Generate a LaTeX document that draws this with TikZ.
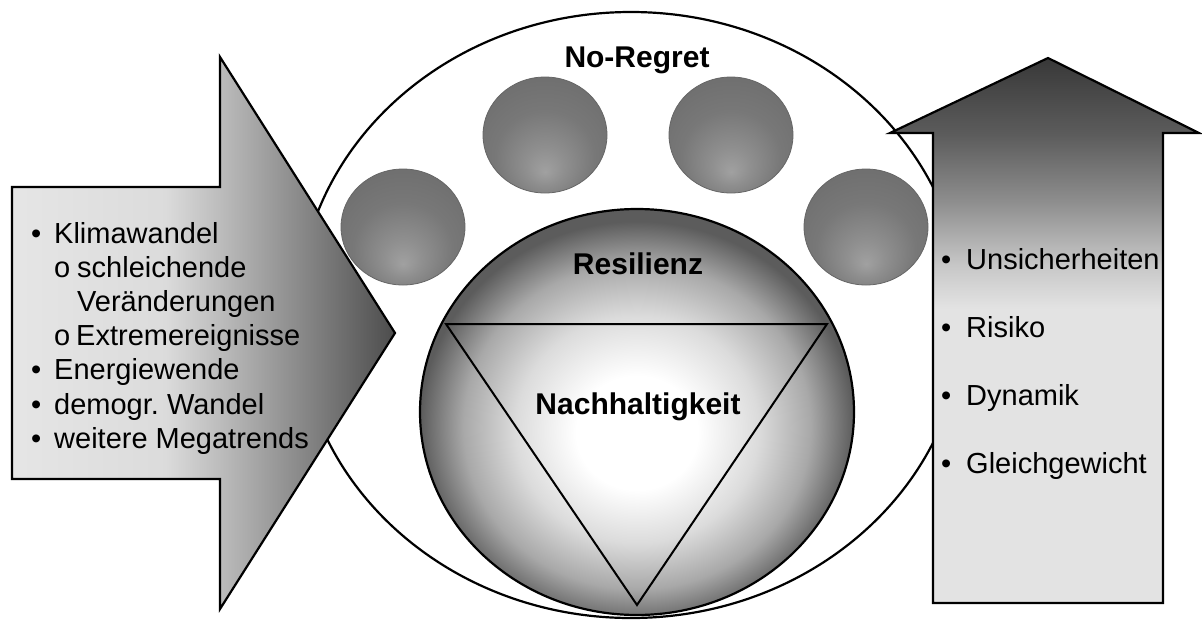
\documentclass[tikz,border=0pt]{standalone}
\usepackage{fontspec}
\setmainfont{Liberation Sans}
\frenchspacing
\definecolor{la1}{gray}{0.90}
\definecolor{la2}{gray}{0.86}
\definecolor{la3}{gray}{0.74}
\definecolor{la4}{gray}{0.55}
\definecolor{la5}{gray}{0.30}
\definecolor{ra1}{gray}{0.89}
\definecolor{ra2}{gray}{0.78}
\definecolor{ra3}{gray}{0.55}
\definecolor{ra4}{gray}{0.36}
\definecolor{ra5}{gray}{0.22}
\definecolor{sp1}{gray}{0.86}
\definecolor{sp2}{gray}{0.66}
\definecolor{sp3}{gray}{0.36}
\definecolor{b1}{gray}{0.63}
\definecolor{b2}{gray}{0.56}
\definecolor{b3}{gray}{0.47}
\definecolor{b4}{gray}{0.41}
\pgfdeclarehorizontalshading{larrow}{100bp}{color(0bp)=(la1); color(25bp)=(la1); color(45bp)=(la2); color(52bp)=(la3); color(62bp)=(la4); color(75bp)=(la5); color(100bp)=(la5)}
\pgfdeclareverticalshading{rarrow}{100bp}{color(0bp)=(ra1); color(25bp)=(ra1); color(52bp)=(ra1); color(56bp)=(ra2); color(62bp)=(ra3); color(68bp)=(ra4); color(75bp)=(ra5); color(100bp)=(ra5)}
\pgfdeclareradialshading{sph}{\pgfpoint{0bp}{-3bp}}{color(0bp)=(white); color(7bp)=(white); color(14bp)=(sp1); color(20bp)=(sp2); color(25bp)=(sp3); color(50bp)=(sp3)}
\pgfdeclareradialshading{bl}{\pgfpoint{0bp}{-16bp}}{color(0bp)=(b1); color(8bp)=(b2); color(20bp)=(b3); color(40bp)=(b4); color(50bp)=(b4)}
\begin{document}
\begin{tikzpicture}[x=1pt,y=-1pt,
  outl/.style={draw=black,line width=2.2pt,line join=miter},
  ballshape/.style={shading=bl,draw=black!60,line width=0.8pt},
  item/.style={anchor=base west,inner sep=0pt,font=\fontsize{29}{34}\selectfont},
  ttl/.style={anchor=base,inner sep=0pt,font=\fontsize{30}{36}\selectfont\bfseries}]
\fill[white] (0,0) rectangle (1202,619);
\useasboundingbox (0,0) rectangle (1202,619);
% outer ellipse
\draw[outl,fill=white] (631,315) ellipse [x radius=333pt,y radius=303pt];
% left arrow
\shadedraw[shading=larrow,outl] (12,187) -- (220,187) -- (220,57) -- (395,333) -- (220,609) -- (220,479) -- (12,479) -- cycle;
% right arrow
\shadedraw[shading=rarrow,outl] (933,603) -- (933,133) -- (890,133) -- (1048,58) -- (1199,133) -- (1163,133) -- (1163,603) -- cycle;
% balls
\shadedraw[ballshape] (403,227) ellipse [x radius=62pt,y radius=58pt];
\shadedraw[ballshape] (545,135) ellipse [x radius=62pt,y radius=58pt];
\shadedraw[ballshape] (731,135) ellipse [x radius=62pt,y radius=58pt];
\shadedraw[ballshape] (866,227) ellipse [x radius=62pt,y radius=58pt];
% inner sphere
\shadedraw[shading=sph,outl] (637,412) ellipse [x radius=217pt,y radius=203pt];
\draw[black,line width=2pt,line join=miter] (446,324) -- (827,324) -- (637,605) -- cycle;
% titles
\node[ttl] (noregret) at (637,67) {No-Regret};
\node[ttl] (resil) at (638,274) {Resilienz};
\node[ttl] (nachh) at (638,414) {Nachhaltigkeit};
% left list
\node[item] (lb1) at (31,243) {•};
\node[item] (lt1) at (54,243) {Klimawandel};
\node[item] (lo1) at (54,277) {o};
\node[item] (lt2) at (77,277) {schleichende};
\node[item] (lt3) at (77,311) {Veränderungen};
\node[item] (lo2) at (54,345) {o};
\node[item] (lt4) at (76,345) {Extremereignisse};
\node[item] (lb2) at (31,379) {•};
\node[item] (lt5) at (54,379) {Energiewende};
\node[item] (lb3) at (31,414) {•};
\node[item] (lt6) at (54,414) {demogr. Wandel};
\node[item] (lb4) at (31,448) {•};
\node[item] (lt7) at (54,448) {weitere Megatrends};
% right list
\node[item] (rb1) at (941,269) {•};
\node[item] (rt1) at (966,269) {Unsicherheiten};
\node[item] (rb2) at (941,337) {•};
\node[item] (rt2) at (966,337) {Risiko};
\node[item] (rb3) at (941,405) {•};
\node[item] (rt3) at (966,405) {Dynamik};
\node[item] (rb4) at (941,473) {•};
\node[item] (rt4) at (966,473) {Gleichgewicht};
\end{tikzpicture}
\end{document}
